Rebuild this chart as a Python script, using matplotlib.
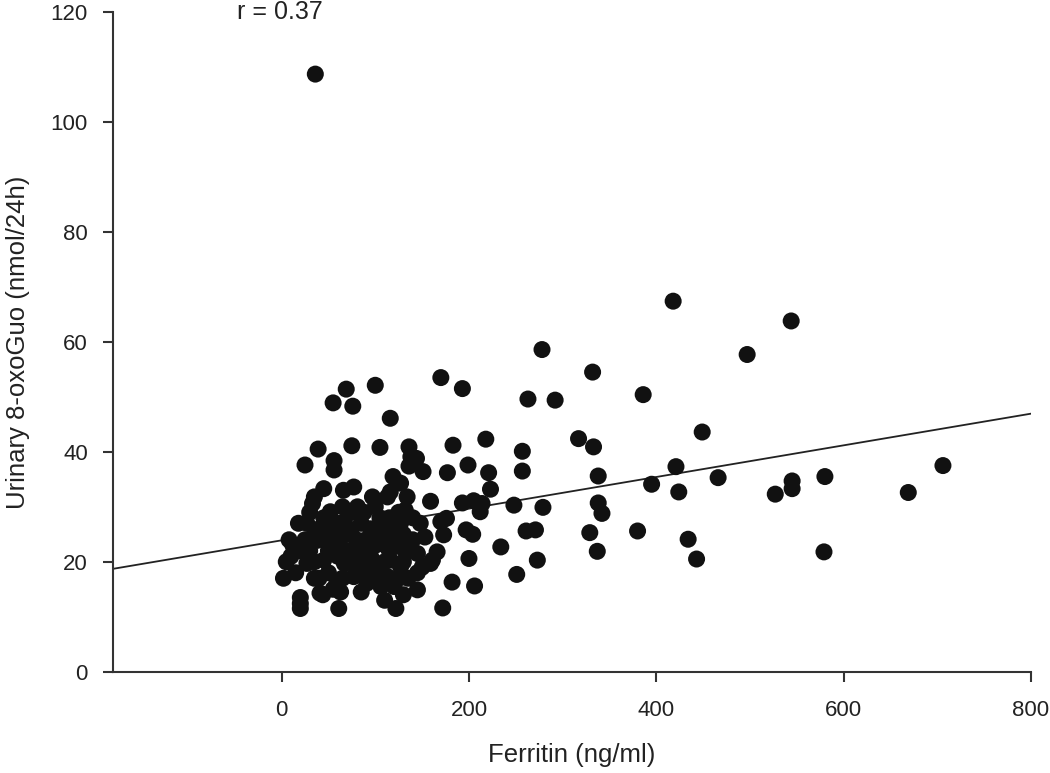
import matplotlib
matplotlib.use("Agg")
import matplotlib.pyplot as plt
import numpy as np

plt.rcParams['font.family'] = ['Liberation Sans', 'DejaVu Sans']

# ferritin (ng/ml) and urinary 8-oxoGuo (nmol/24h)
ferritin = [
    # sparse right part
    418, 544, 278, 497, 332, 263, 292, 386, 449, 317, 333, 257, 257, 338,
    421, 466, 395, 424, 545, 545, 527, 248, 279, 338, 342, 261, 271, 329,
    380, 434, 234, 273, 337, 443, 251, 706, 669, 580, 579, 36,
    # middle part
    170, 193, 69, 100, 55, 76, 116, 39, 75, 105, 136, 183, 218, 25, 56, 56,
    138, 136, 151, 177, 199, 221, 119, 223, 45, 66, 77, 97, 113, 127, 134,
    159, 193, 205, 214, 33, 81, 132, 212, 52, 176, 170, 116, 127, 27, 67,
    197, 204, 173, 153, 91, 106, 74, 56, 38, 127, 166, 161, 145, 200, 100,
    116, 127, 84, 67, 45, 27, 91, 106, 120, 145, 182, 206, 59, 41, 20, 61,
    122, 172, 77, 113, 144, 8, 2, 18, 20, 20, 44, 63, 159, 116, 35,
    # dense cluster
    10, 15, 12, 30, 35, 40, 48, 50, 60, 62, 70, 80, 85, 90, 95, 100, 105,
    110, 115, 120, 125, 130, 135, 140, 148, 150, 30, 85, 95, 110, 130, 55,
    65, 100, 120, 45, 35, 75, 88,
    5, 25, 35, 50, 60, 70, 80, 90, 100, 110, 115, 125, 135, 140, 20, 40,
    75, 95, 105, 130, 85, 65, 55, 145,
]
oxoguo = [
    67.4, 63.8, 58.6, 57.7, 54.5, 49.6, 49.4, 50.4, 43.6, 42.4, 40.9, 40.1,
    36.5, 35.6, 37.3, 35.3, 34.1, 32.7, 34.7, 33.3, 32.3, 30.3, 29.9, 30.7,
    28.8, 25.6, 25.8, 25.3, 25.6, 24.1, 22.7, 20.3, 21.9, 20.5, 17.7, 37.5,
    32.6, 35.5, 21.8, 108.7,
    53.5, 51.5, 51.4, 52.1, 48.9, 48.3, 46.1, 40.5, 41.1, 40.8, 40.9, 41.2,
    42.3, 37.6, 38.4, 36.7, 39.1, 37.4, 36.4, 36.2, 37.6, 36.2, 35.5, 33.2,
    33.3, 33.0, 33.6, 31.8, 31.8, 34.3, 31.8, 31.0, 30.7, 31.1, 30.6, 30.6,
    30.0, 29.4, 29.1, 29.1, 27.9, 27.3, 27.0, 27.0, 27.0, 27.3, 25.8, 25.0,
    24.9, 24.5, 23.9, 23.3, 25.8, 22.7, 23.9, 22.7, 21.8, 20.3, 21.5, 20.6,
    19.7, 20.3, 19.1, 20.3, 19.7, 20.3, 19.7, 16.1, 15.5, 15.5, 14.9, 16.3,
    15.6, 16.1, 14.3, 12.4, 11.5, 11.5, 11.6, 17.3, 17.3, 38.8, 24.0, 17.0,
    27.0, 13.5, 11.5, 14.0, 14.5, 19.7, 32.7, 31.8,
    21, 18, 23, 22, 17, 26, 24, 18, 21, 24, 22, 24, 27, 20, 26, 23, 28, 25,
    22, 24, 29, 20, 17, 24, 27, 19, 29, 14.5, 17.5, 13, 14, 26, 30, 30, 26,
    28, 25, 20.5, 29,
    20, 24, 20, 22, 27, 25, 18, 24, 26, 20, 28, 17, 22, 28, 22, 17, 29, 21,
    18, 25, 22, 17, 15, 18,
]

# regression line as drawn in the figure
fit_intercept = 23.9
fit_slope = 0.0288
r_value = 0.37

fig = plt.figure(figsize=(10.5, 7.73), dpi=100)
ax = fig.add_axes([0.1076, 0.131, 0.8743, 0.8535])

ax.scatter(ferritin, oxoguo, s=150, color='#111111', edgecolors='none', zorder=3)

xs = np.array([-180, 800])
ax.plot(xs, fit_intercept + fit_slope * xs, color='#222222', lw=1.3, zorder=2)

ax.set_xlim(-180, 800)
ax.set_ylim(0, 120)
ax.set_xticks([0, 200, 400, 600, 800])
ax.set_yticks([0, 20, 40, 60, 80, 100, 120])

for side in ['top', 'right']:
    ax.spines[side].set_visible(False)
for side in ['left', 'bottom']:
    ax.spines[side].set_color('#333333')
    ax.spines[side].set_linewidth(1.5)

ax.tick_params(axis='both', direction='out', length=7, width=1.5,
               colors='#333333', labelsize=16, labelcolor='#222222')
ax.tick_params(axis='y', pad=11)
ax.tick_params(axis='x', pad=13)

ax.set_xlabel('Ferritin (ng/ml)', fontsize=18.5, color='#222222', labelpad=16)
ax.set_ylabel('Urinary 8-oxoGuo (nmol/24h)', fontsize=18.5, color='#222222',
              labelpad=15)

ax.text(-2, 120, 'r = %.2f' % r_value, fontsize=18, color='#222222',
        ha='center', va='center', clip_on=False)

fig.savefig('out.png', dpi=100)
